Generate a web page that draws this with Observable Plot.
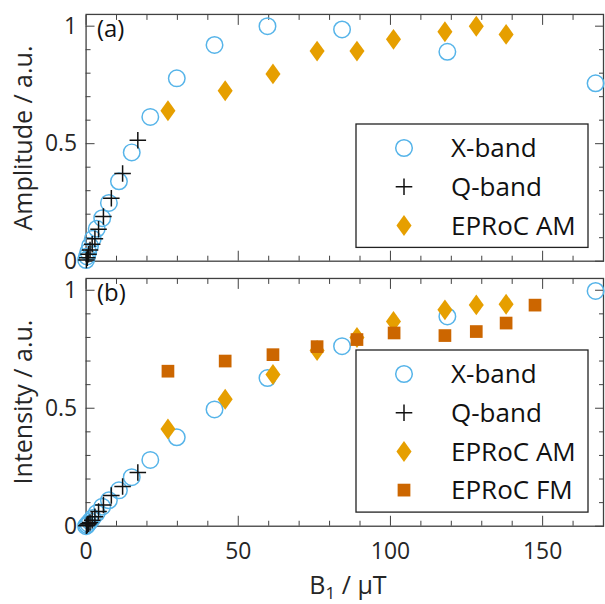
<!DOCTYPE html>
<html><head><meta charset="utf-8">
<script src="https://cdn.jsdelivr.net/npm/d3@7"></script>
<script src="https://cdn.jsdelivr.net/npm/@observablehq/plot@0.6"></script>
<style>
html,body{margin:0;padding:0;background:#fff;overflow:hidden;width:605px;height:604px}
#wrap{position:relative;width:605px;height:604px;overflow:hidden;font-family:"Open Sans",sans-serif;color:#262626}
#wrap svg{position:absolute;left:0}
</style></head><body><div id="wrap"></div>
<script>
// ---- data ----
const xbandB1  = [0, 0.3, 0.7, 1.3, 2.2, 3.5, 5.3, 7.5, 10.8, 15.0, 21.1, 29.8, 42.2, 59.6, 84.1, 118.7, 167.4];
const xbandAmp = [0.005, 0.02, 0.04, 0.065, 0.095, 0.138, 0.183, 0.248, 0.34, 0.463, 0.614, 0.778, 0.92, 1.0, 0.986, 0.891, 0.757];
const xbandInt = [0, 0.005, 0.011, 0.021, 0.035, 0.056, 0.083, 0.11, 0.152, 0.208, 0.281, 0.377, 0.495, 0.628, 0.763, 0.889, 0.997];
const qbandB1  = [0.1, 0.4, 0.8, 1.3, 2.0, 2.9, 4.1, 5.7, 8.3, 12.0, 17.0];
const qbandAmp = [0.005, 0.015, 0.03, 0.048, 0.072, 0.095, 0.136, 0.19, 0.268, 0.373, 0.515];
const qbandInt = [0.002, 0.005, 0.01, 0.016, 0.025, 0.04, 0.062, 0.09, 0.13, 0.168, 0.228];
const amB1  = [26.9, 45.7, 61.4, 75.9, 89.0, 101.0, 117.9, 128.2, 138.0];
const amAmp = [0.64, 0.725, 0.797, 0.894, 0.894, 0.944, 0.976, 1.0, 0.965];
const amInt = [0.412, 0.538, 0.643, 0.745, 0.80, 0.868, 0.917, 0.938, 0.941];
const fmB1  = [26.9, 45.7, 61.4, 75.9, 89.0, 101.2, 117.9, 128.2, 138.0, 147.5];
const fmInt = [0.657, 0.70, 0.727, 0.761, 0.791, 0.819, 0.808, 0.825, 0.861, 0.937];
const xMajor = [0, 50, 100, 150];
const xMinor = [10, 20, 30, 40, 60, 70, 80, 90, 110, 120, 130, 140, 160, 170];
const yMajor = [0, 0.5, 1];
const yMinor = [0.1, 0.2, 0.3, 0.4, 0.6, 0.7, 0.8, 0.9];
const seriesNames = ["X-band", "Q-band", "EPRoC AM", "EPRoC FM"];
const panelLabels = ["(a)", "(b)"];
const yTitles = ["Amplitude / a.u.", "Intensity / a.u."];

// ---- styles ----
const thinDiamond = {draw(ctx, size) {
  const r = Math.sqrt(size / Math.PI), w = r * 0.72;
  ctx.moveTo(0, -r); ctx.lineTo(w, 0); ctx.lineTo(0, r); ctx.lineTo(-w, 0); ctx.closePath();
}};
const sty = {
  "X-band":   {symbol: "circle", r: 8.3, fill: "none", stroke: "#56B4E9", strokeWidth: 1.5},
  "Q-band":   {symbol: "plus", r: 5.4, fill: "none", stroke: "#111", strokeWidth: 1.5},
  "EPRoC AM": {symbol: thinDiamond, r: 10.5, fill: "#E69F00", stroke: "none"},
  "EPRoC FM": {symbol: "square", r: 7.2, fill: "#CC6600", stroke: "none"}
};
const zipXY = (xs, ys) => xs.map((x, i) => ({x, y: ys[i]}));
const ink = "#262626", frameInk = "#404040";

function panel({height, top, marginTop, marginBottom, showX, label, series}) {
  const marks = [
    Plot.frame({stroke: frameInk, strokeWidth: 1.3}),
    Plot.axisX({anchor: "bottom", ticks: xMajor, tickSize: -10, fill: "none", label: null, stroke: frameInk}),
    Plot.axisX({anchor: "bottom", ticks: xMinor, tickSize: -5, fill: "none", label: null, stroke: frameInk}),
    Plot.axisX({anchor: "top", ticks: xMajor, tickSize: -10, fill: "none", label: null, stroke: frameInk}),
    Plot.axisX({anchor: "top", ticks: xMinor, tickSize: -5, fill: "none", label: null, stroke: frameInk}),
    Plot.axisY({anchor: "left", ticks: yMajor, tickSize: -9, fill: "none", label: null, stroke: frameInk}),
    Plot.axisY({anchor: "left", ticks: yMinor, tickSize: -5, fill: "none", label: null, stroke: frameInk}),
    Plot.axisY({anchor: "right", ticks: yMajor, tickSize: -9, fill: "none", label: null, stroke: frameInk}),
    Plot.axisY({anchor: "right", ticks: yMinor, tickSize: -5, fill: "none", label: null, stroke: frameInk}),
    Plot.axisY({anchor: "left", ticks: yMajor, tickSize: 0, tickPadding: 9, tickFormat: d => `${d}`, label: null, fill: ink}),
    Plot.text([label], {frameAnchor: "top-left", dx: 11, dy: 6, textAnchor: "start", lineAnchor: "top", fontSize: 24, fill: "#111"})
  ];
  if (showX) marks.push(Plot.axisX({anchor: "bottom", ticks: xMajor, tickSize: 0, tickPadding: 17, tickFormat: d => `${d}`, label: null, fill: ink}));
  for (const [name, data] of series) marks.push(Plot.dot(data, {x: "x", y: "y", ...sty[name]}));
  const svg = Plot.plot({
    width: 608, height, marginLeft: 86, marginRight: 2, marginTop, marginBottom,
    style: {fontFamily: "Open Sans", fontSize: "23px", color: ink, background: "transparent", overflow: "visible"},
    x: {domain: [0, 170]},
    y: {domain: [0, 1.05]},
    marks
  });
  svg.style.top = top + "px";
  document.getElementById("wrap").appendChild(svg);
}

panel({height: 270, top: 0, marginTop: 14, marginBottom: 8, showX: false, label: panelLabels[0],
  series: [["X-band", zipXY(xbandB1, xbandAmp)], ["Q-band", zipXY(qbandB1, qbandAmp)], ["EPRoC AM", zipXY(amB1, amAmp)]]});
panel({height: 334, top: 270, marginTop: 8, marginBottom: 77, showX: true, label: panelLabels[1],
  series: [["X-band", zipXY(xbandB1, xbandInt)], ["Q-band", zipXY(qbandB1, qbandInt)], ["EPRoC AM", zipXY(amB1, amInt)], ["EPRoC FM", zipXY(fmB1, fmInt)]]});

// ---- overlay: legends, axis titles ----
const ov = d3.select("#wrap").append("svg").attr("width", 605).attr("height", 604).style("top", "0px")
  .style("font-family", "Open Sans").style("pointer-events", "none");
function legend(x0, y0, names) {
  const w = 232, first = 24, step = 38.7, h = first + step * (names.length - 1) + 22;
  ov.append("rect").attr("x", x0).attr("y", y0).attr("width", w).attr("height", h)
    .attr("fill", "#fff").attr("stroke", "#222").attr("stroke-width", 1.3);
  names.forEach((n, i) => {
    const s = sty[n], cy = y0 + first + step * i;
    const sym = typeof s.symbol === "string" ? {circle: d3.symbolCircle, plus: d3.symbolPlus, square: d3.symbolSquare}[s.symbol] : s.symbol;
    ov.append("path").attr("transform", `translate(${x0 + 48},${cy})`)
      .attr("d", d3.symbol(sym, Math.PI * s.r * s.r)())
      .attr("fill", s.fill).attr("stroke", s.stroke).attr("stroke-width", s.strokeWidth || 0);
    ov.append("text").attr("x", x0 + 95).attr("y", cy).attr("dy", "0.35em")
      .attr("font-size", 26).attr("fill", "#111").text(n);
  });
}
legend(356, 124, seriesNames.slice(0, 3));
legend(356, 350, seriesNames);
[[138, yTitles[0]], [402, yTitles[1]]].forEach(([cy, t]) => {
  ov.append("text").attr("transform", `translate(23,${cy}) rotate(-90)`).attr("text-anchor", "middle")
    .attr("dy", "0.35em").attr("font-size", 25).attr("fill", ink).text(t);
});
const xt = ov.append("text").attr("x", 348).attr("y", 594).attr("text-anchor", "middle").attr("font-size", 25).attr("fill", ink);
xt.append("tspan").text("B");
xt.append("tspan").attr("font-size", 17).attr("dy", 5).text("1");
xt.append("tspan").attr("dy", -5).text(" / µT");
</script></body></html>
